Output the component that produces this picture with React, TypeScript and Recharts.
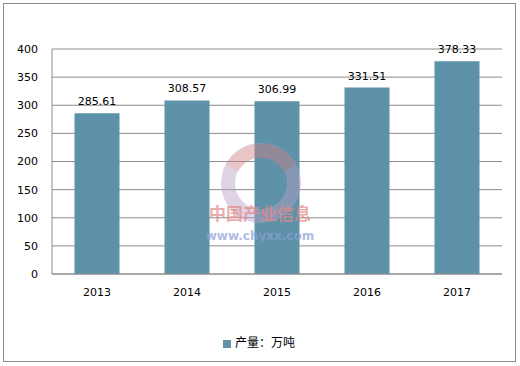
import React from 'react';
import { BarChart, Bar, XAxis, YAxis, CartesianGrid, Legend, LabelList } from 'recharts';

const years = ['2013', '2014', '2015', '2016', '2017'];
const output = [285.61, 308.57, 306.99, 331.51, 378.33];
const yTicks = [0, 50, 100, 150, 200, 250, 300, 350, 400];

const data = years.map((year, i) => ({ year, value: output[i] }));

const font = '"DejaVu Sans", Verdana, sans-serif';

function Watermark() {
  return (
    <svg width={520} height={366} style={{ position: 'absolute', left: 0, top: 0, pointerEvents: 'none' }}>
      <g opacity={0.45}>
        <circle cx={261} cy={183} r={33} fill="none" stroke="#b9a0c8" strokeWidth={14} />
        <path d="M 232 168 A 33 33 0 0 1 290 168" fill="none" stroke="#d27f86" strokeWidth={14} />
      </g>
      <text x={260} y={220} textAnchor="middle" fontSize={17} fontWeight="bold" fill="#e08a8a" opacity={0.7}
        fontFamily='"Noto Sans CJK SC", sans-serif'>中国产业信息</text>
      <text x={260} y={240} textAnchor="middle" fontSize={12} fontWeight="bold" fill="#8f9fd6" opacity={0.7}
        fontFamily='"DejaVu Sans", sans-serif'>www.chyxx.com</text>
    </svg>
  );
}

export default function App() {
  return (
    <div style={{ position: 'absolute', left: 0, top: 0, width: 520, height: 366, background: '#fff' }}>
      <div style={{ position: 'absolute', left: 3, top: 3, width: 513, height: 359, border: '1px solid #8a8a8a', boxSizing: 'border-box' }} />
      <BarChart
        width={520}
        height={366}
        data={data}
        margin={{ top: 49, right: 18, left: 0, bottom: 45 }}
        barCategoryGap="25%"
      >
        <CartesianGrid vertical={false} stroke="#8c8c8c" />
        <XAxis
          dataKey="year"
          height={30}
          axisLine={{ stroke: '#8c8c8c' }}
          tickLine={false}
          tickMargin={8}
          tick={{ fontSize: 11, fill: '#000', fontFamily: font }}
        />
        <YAxis
          width={52}
          domain={[0, 400]}
          ticks={yTicks}
          axisLine={{ stroke: '#8c8c8c' }}
          tickLine={false}
          tickMargin={8}
          tick={{ fontSize: 11, fill: '#000', fontFamily: font }}
        />
        <Legend
          verticalAlign="bottom"
          iconType="square"
          iconSize={8}
          wrapperStyle={{ bottom: 16, paddingLeft: 13, fontSize: 12, fontFamily: '"Noto Sans CJK SC", sans-serif' }}
          formatter={(v) => <span style={{ color: '#000' }}>{v}</span>}
        />
        <Bar dataKey="value" name="产量：万吨" fill="#5d92a8" isAnimationActive={false}>
          <LabelList dataKey="value" position="top" offset={8} fill="#000" fontSize={11} fontFamily={font} />
        </Bar>
      </BarChart>
      <Watermark />
    </div>
  );
}
